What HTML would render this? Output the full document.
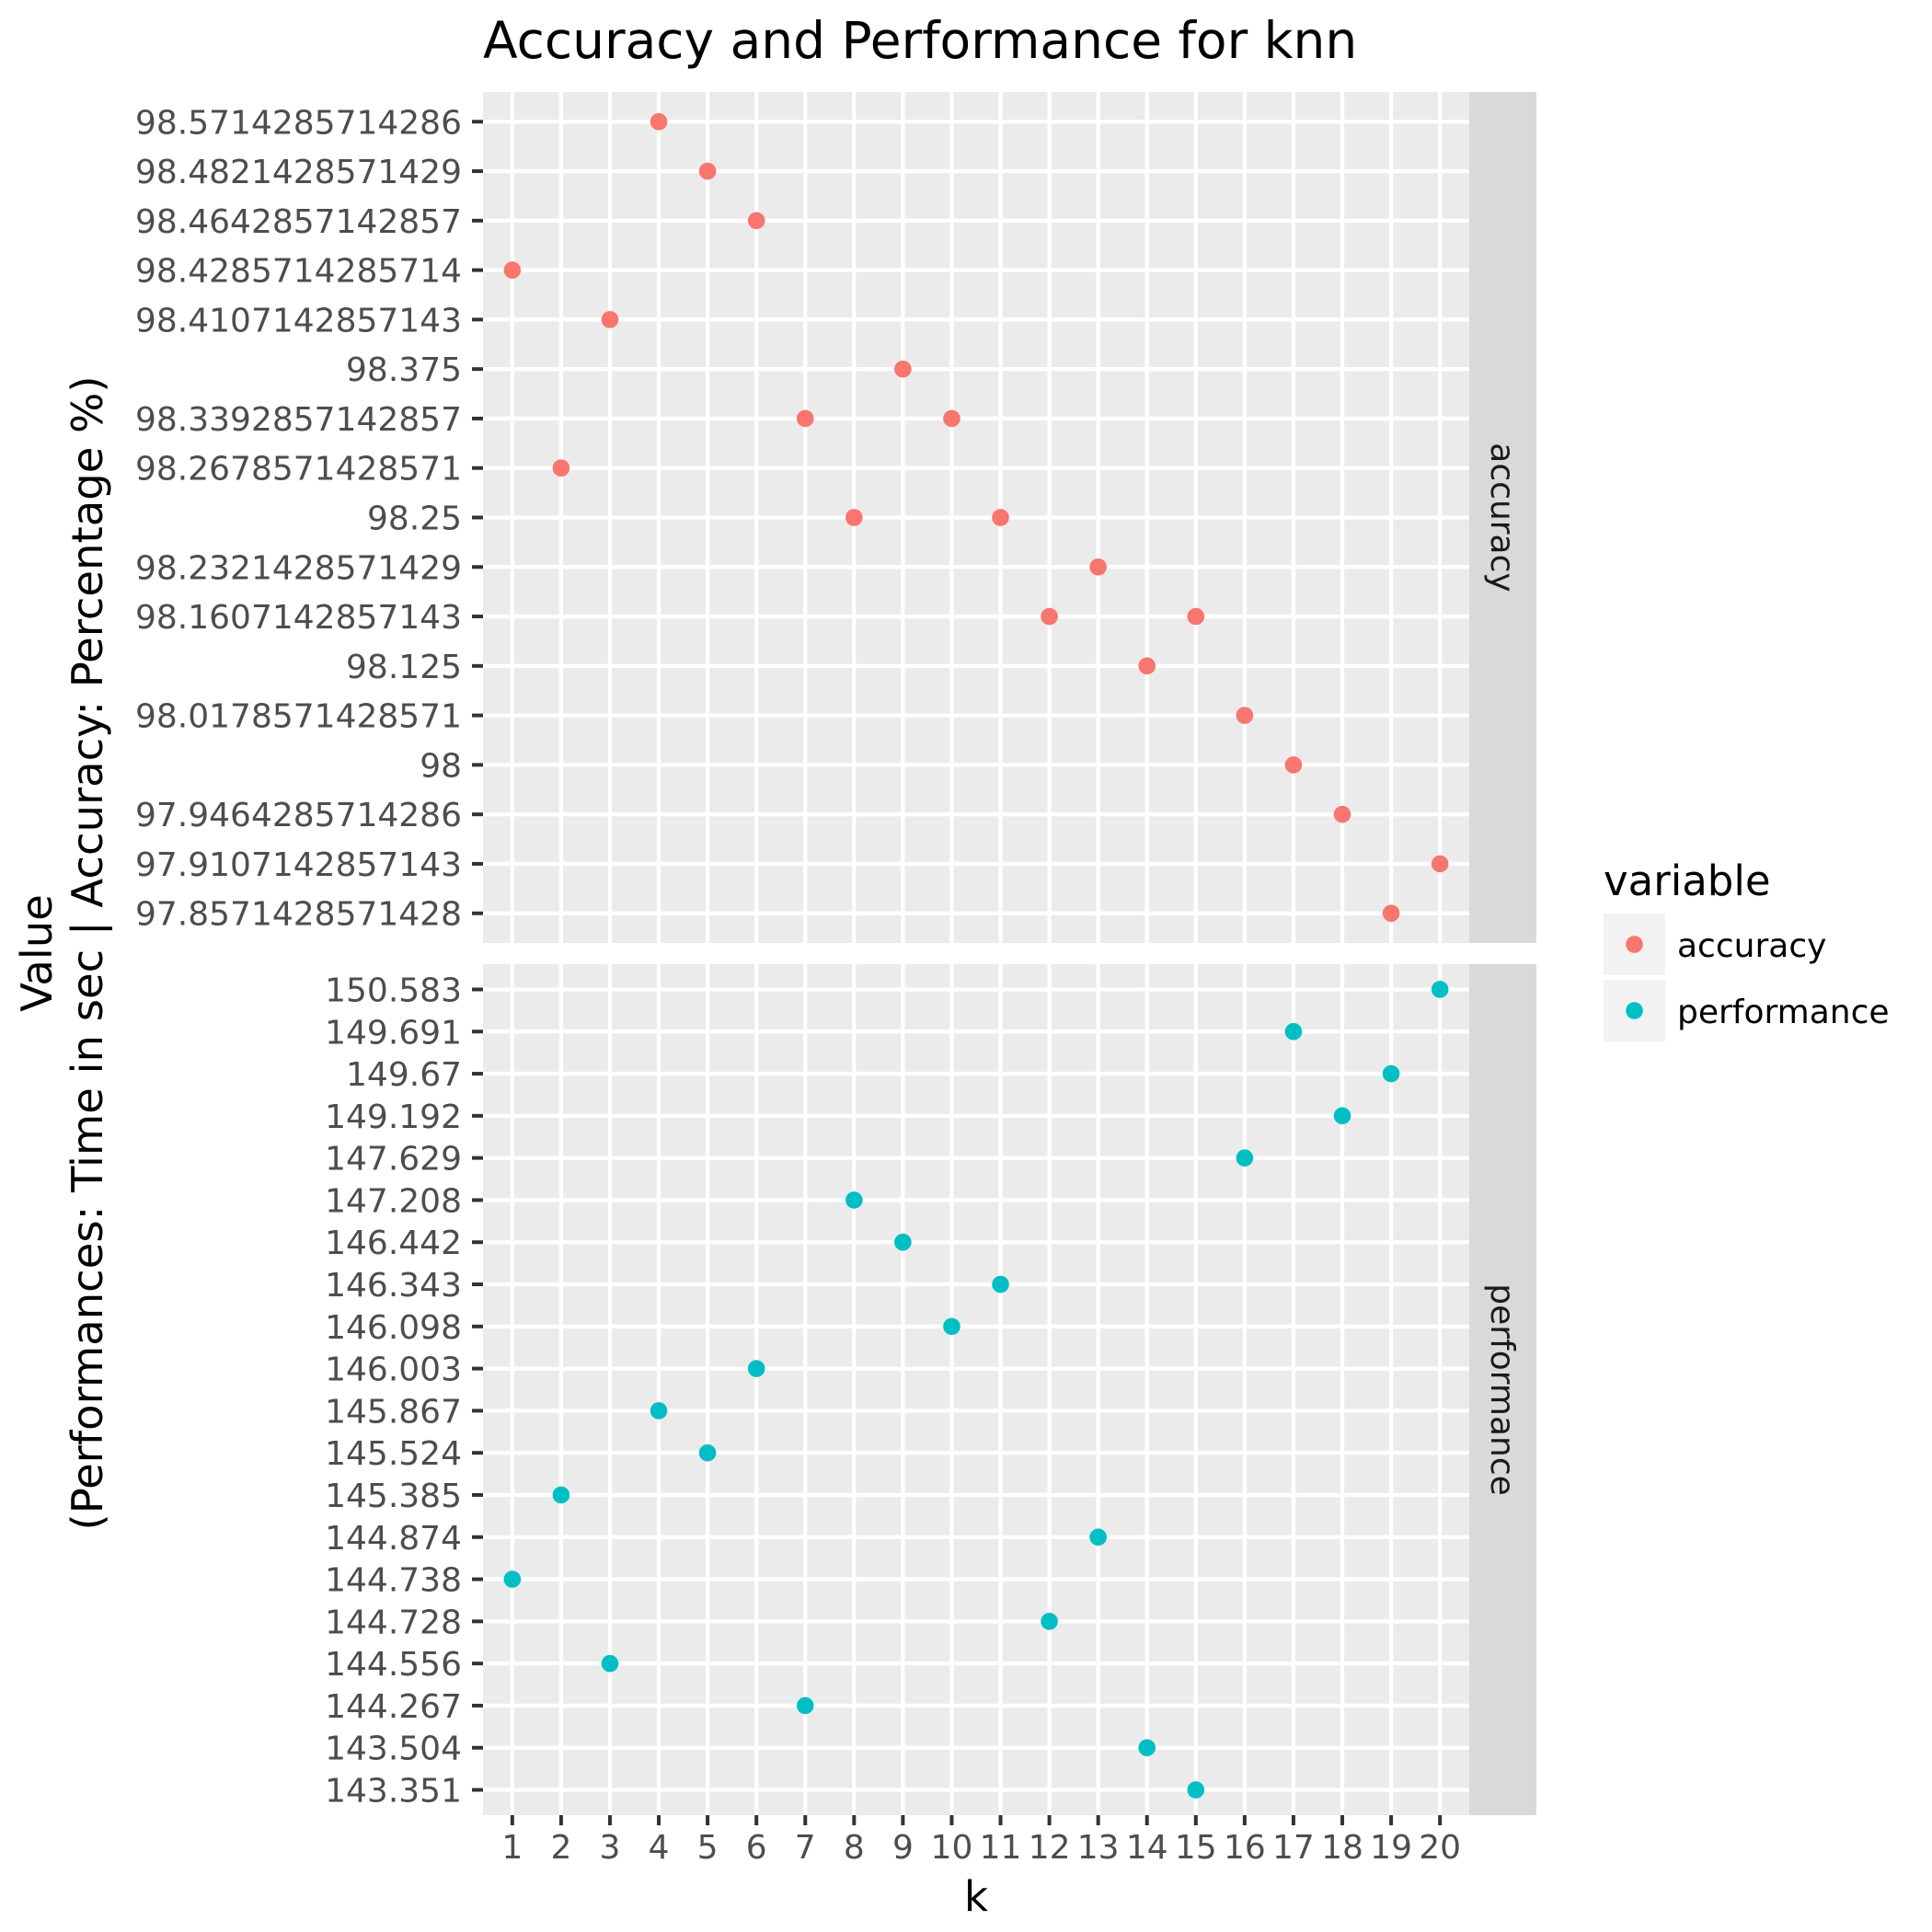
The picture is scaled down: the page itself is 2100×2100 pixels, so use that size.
<!DOCTYPE html>
<html><head><meta charset="utf-8"><title>Accuracy and Performance for knn</title>
<style>html,body{margin:0;padding:0;background:#fff;}svg{display:block;font-family:"DejaVu Sans","Liberation Sans",sans-serif;}</style>
</head><body>
<svg id="chart" width="2100" height="2100" viewBox="0 0 2100 2100" xmlns="http://www.w3.org/2000/svg">
<rect x="0" y="0" width="2100" height="2100" fill="#fff"/>
<text x="525" y="63" font-size="55" fill="#000">Accuracy and Performance for knn</text>
<g id="plot"></g>
<text x="1061" y="2077" font-size="45" text-anchor="middle" fill="#000">k</text>
<g transform="translate(0,1036) rotate(-90)">
<text x="0" y="56" font-size="46.5" text-anchor="middle" fill="#000">Value</text>
<text x="0" y="111" font-size="46.5" text-anchor="middle" fill="#000">(Performances: Time in sec | Accuracy: Percentage %)</text>
</g>
<g>
<text x="1743" y="973" font-size="45" fill="#000">variable</text>
<g>
<rect x="1743" y="993" width="67" height="67" fill="#F2F2F2"/>
<circle cx="1776.5" cy="1026.5" r="9.3" fill="#F8766D"/>
<text x="1823" y="1040" font-size="36" fill="#000">accuracy</text>
</g>
<g>
<rect x="1743" y="1065" width="67" height="67" fill="#F2F2F2"/>
<circle cx="1776.5" cy="1098.5" r="9.3" fill="#00BFC4"/>
<text x="1823" y="1112" font-size="36" fill="#000">performance</text>
</g>
</g>
</svg>
<script>
const kCategories = [1,2,3,4,5,6,7,8,9,10,11,12,13,14,15,16,17,18,19,20];
const accuracyValues = ["98.4285714285714","98.2678571428571","98.4107142857143","98.5714285714286","98.4821428571429","98.4642857142857","98.3392857142857","98.25","98.375","98.3392857142857","98.25","98.1607142857143","98.2321428571429","98.125","98.1607142857143","98.0178571428571","98","97.9464285714286","97.8571428571428","97.9107142857143"];
const performanceValues = ["144.738","145.385","144.556","145.867","145.524","146.003","144.267","147.208","146.442","146.098","146.343","144.728","144.874","143.504","143.351","147.629","149.691","149.192","149.67","150.583"];

const NS = "http://www.w3.org/2000/svg";
const plot = document.getElementById('plot');
function mk(tag, attrs, parent){const e=document.createElementNS(NS,tag);for(const k in attrs)e.setAttribute(k,attrs[k]);(parent||plot).appendChild(e);return e;}
const X0=525, X1=1597;
const nX=kCategories.length;
const xStep=(X1-X0)/(nX-1+1.2);
function xScale(i){return X0+xStep*(0.6+i);}

const panels=[
 {name:'accuracy',vals:accuracyValues,color:'#F8766D',top:100,bottom:1025},
 {name:'performance',vals:performanceValues,color:'#00BFC4',top:1048,bottom:1973}
];
panels.forEach(p=>{
  const levels=[...new Set(p.vals)].sort((a,b)=>parseFloat(a)-parseFloat(b));
  const n=levels.length;
  const step=(p.bottom-p.top)/(n-1+1.2);
  const yScale=v=>p.bottom-step*(0.6+levels.indexOf(v));
  const g=mk('g',{});
  
  
  mk('rect',{x:X0,y:p.top,width:X1-X0,height:p.bottom-p.top,fill:'#EBEBEB'},g);
  levels.forEach(l=>{
    const y=yScale(l);
    mk('line',{x1:X0,x2:X1,y1:y,y2:y,stroke:'#fff','stroke-width':4.3},g);
    mk('line',{x1:513,x2:525,y1:y,y2:y,stroke:'#333','stroke-width':4},g);
    const t=mk('text',{x:502,y:y+13,'font-size':36,'text-anchor':'end',fill:'#4D4D4D'},g);
    
    
    t.textContent=l;
  });
  kCategories.forEach((k,i)=>{
    const x=xScale(i);
    mk('line',{x1:x,x2:x,y1:p.top,y2:p.bottom,stroke:'#fff','stroke-width':4.3},g);
  });
  p.vals.forEach((v,i)=>{
    const c=mk('circle',{cx:xScale(i),cy:yScale(v),r:9.3,fill:p.color},g);
    
    
  });
  const s=mk('rect',{x:1597,y:p.top,width:73,height:p.bottom-p.top,fill:'#D9D9D9'});
  
  
  const cy=(p.top+p.bottom)/2;
  const st=mk('text',{x:0,y:0,'font-size':36,'text-anchor':'middle',fill:'#1A1A1A',transform:`translate(1621,${cy}) rotate(90)`});
  
  
  st.textContent=p.name;
});
kCategories.forEach((k,i)=>{
  const x=xScale(i);
  mk('line',{x1:x,x2:x,y1:1973,y2:1984,stroke:'#333','stroke-width':4});
  const t=mk('text',{x:x,y:2020,'font-size':36,'text-anchor':'middle',fill:'#4D4D4D'});
  
  
  t.textContent=k;
});
</script>
</body></html>
